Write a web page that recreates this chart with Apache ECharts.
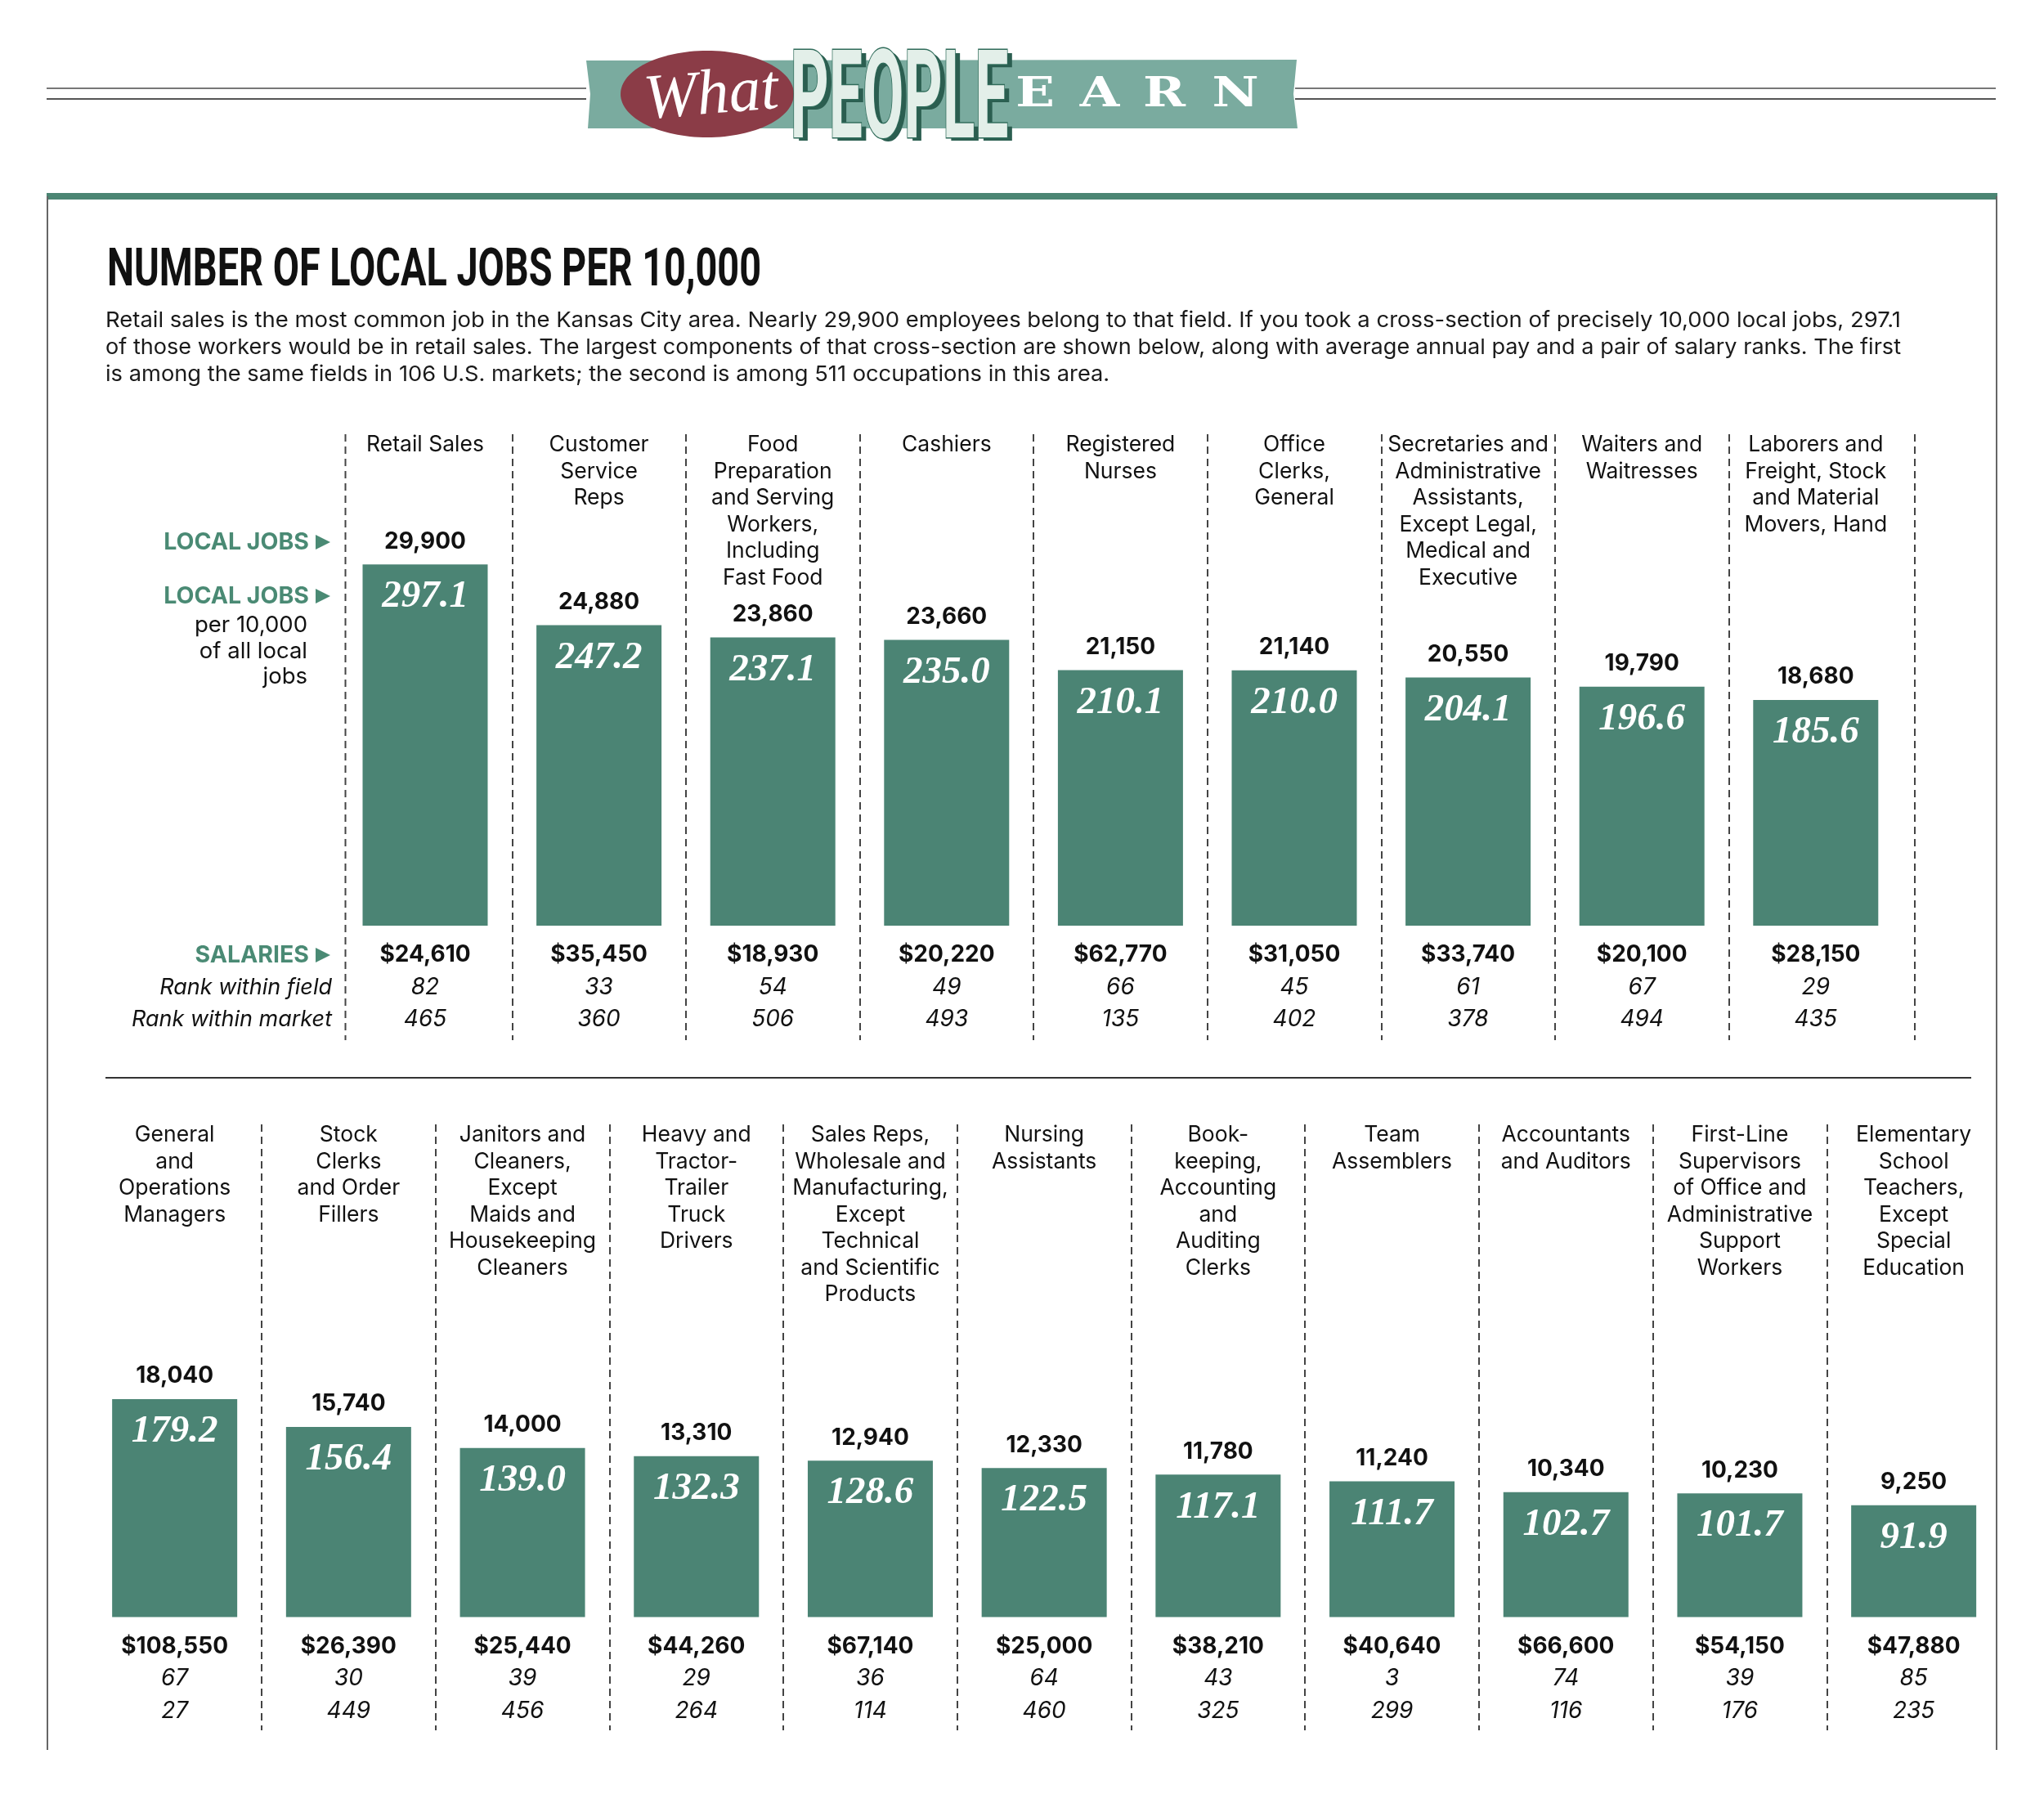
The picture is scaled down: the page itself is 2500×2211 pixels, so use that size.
<!DOCTYPE html>
<html><head><meta charset="utf-8">
<script src="https://cdn.jsdelivr.net/npm/echarts@6/dist/echarts.min.js"></script>
<style>html,body{margin:0;padding:0;background:#fff}#c{width:2500px;height:2211px}</style>
</head><body><div id="c"></div>
<script>
// ---------- DATA ----------
const topJobs = ['Retail Sales','Customer\nService\nReps','Food\nPreparation\nand Serving\nWorkers,\nIncluding\nFast Food','Cashiers','Registered\nNurses','Office\nClerks,\nGeneral','Secretaries and\nAdministrative\nAssistants,\nExcept Legal,\nMedical and\nExecutive','Waiters and\nWaitresses','Laborers and\nFreight, Stock\nand Material\nMovers, Hand'];
const topPer = [297.1,247.2,237.1,235.0,210.1,210.0,204.1,196.6,185.6];
const topLocal = [29900,24880,23860,23660,21150,21140,20550,19790,18680];
const topSalary = [24610,35450,18930,20220,62770,31050,33740,20100,28150];
const topRankField = [82,33,54,49,66,45,61,67,29];
const topRankMarket = [465,360,506,493,135,402,378,494,435];

const bottomJobs = ['General\nand\nOperations\nManagers','Stock\nClerks\nand Order\nFillers','Janitors and\nCleaners,\nExcept\nMaids and\nHousekeeping\nCleaners','Heavy and\nTractor-\nTrailer\nTruck\nDrivers','Sales Reps,\nWholesale and\nManufacturing,\nExcept\nTechnical\nand Scientific\nProducts','Nursing\nAssistants','Book-\nkeeping,\nAccounting\nand\nAuditing\nClerks','Team\nAssemblers','Accountants\nand Auditors','First-Line\nSupervisors\nof Office and\nAdministrative\nSupport\nWorkers','Elementary\nSchool\nTeachers,\nExcept\nSpecial\nEducation'];
const bottomPer = [179.2,156.4,139.0,132.3,128.6,122.5,117.1,111.7,102.7,101.7,91.9];
const bottomLocal = [18040,15740,14000,13310,12940,12330,11780,11240,10340,10230,9250];
const bottomSalary = [108550,26390,25440,44260,67140,25000,38210,40640,66600,54150,47880];
const bottomRankField = [67,30,39,29,36,64,43,3,74,39,85];
const bottomRankMarket = [27,449,456,264,114,460,325,299,116,176,235];

const titleText = 'NUMBER OF LOCAL JOBS PER 10,000';
const descLines = [
 'Retail sales is the most common job in the Kansas City area. Nearly 29,900 employees belong to that field. If you took a cross-section of precisely 10,000 local jobs, 297.1',
 'of those workers would be in retail sales. The largest components of that cross-section are shown below, along with average annual pay and a pair of salary ranks. The first',
 'is among the same fields in 106 U.S. markets; the second is among 511 occupations in this area.'
];

// ---------- STYLE / LAYOUT ----------
const GREEN = '#4b8474', LGREEN = '#4a8a74', INK = '#111';
const K = 1.487; // px per unit
const SANS = 'Inter, Roboto, "Noto Sans", sans-serif';
const mctx = document.createElement('canvas').getContext('2d');
function measure(font, t){ mctx.font = font; return mctx.measureText(t).width; }
const fmt = v => v.toLocaleString('en-US');

const G = [
  {left: 413.7, width: 1913.4, top: 531, height: 741, base: 1132},
  {left: 107.3, width: 2339.7, top: 1375, height: 741, base: 1977.5}
];

function xAxisCfg(gi, cats){
  return {type:'category', gridIndex:gi, data:cats, position:'top', boundaryGap:true,
    axisLine:{show:false}, axisTick:{show:false},
    axisLabel:{show:true, interval:0, inside:true, margin:-3, fontFamily:SANS, fontSize:26.5, lineHeight:32.5, color:INK, align:'center'},
    splitLine:{show:true, interval:0, showMinLine:false, showMaxLine:false,
      lineStyle:{color:'#444', width:2, type:[9,6]}}};
}
function yAxisCfg(gi){
  const g = G[gi];
  return {type:'value', gridIndex:gi, show:false,
    min: -(g.top + g.height - g.base)/K, max: (g.base - g.top)/K};
}
function seriesFor(gi, per, local, salary, rf, rm){
  const common = {type:'bar', xAxisIndex:gi, yAxisIndex:gi, barWidth:153, barGap:'-100%', silent:true, animation:false};
  return [
    Object.assign({}, common, {data: per, itemStyle:{color:GREEN}, z:2,
      label:{show:true, position:'insideTop', distance:18, formatter:p=>p.value.toFixed(1),
        color:'#fff', fontFamily:'"Liberation Serif", "DejaVu Serif", serif', fontStyle:'italic', fontWeight:'bold', fontSize:47, lineHeight:44}}),
    Object.assign({}, common, {data: per, itemStyle:{color:'rgba(0,0,0,0)'}, z:3,
      label:{show:true, position:'top', distance:13, formatter:p=>fmt(local[p.dataIndex]),
        color:INK, fontFamily:SANS, fontWeight:'bold', fontSize:28, lineHeight:30}}),
    Object.assign({}, common, {data: per, itemStyle:{color:'rgba(0,0,0,0)'}, z:3,
      label:{show:true, position:'bottom', distance:16,
        formatter:p=>'{s|$' + fmt(salary[p.dataIndex]) + '}\n{r|' + rf[p.dataIndex] + '}\n{r|' + rm[p.dataIndex] + '}',
        rich:{ s:{fontFamily:SANS, fontWeight:'bold', fontSize:28, lineHeight:39.5, color:INK, align:'center'},
               r:{fontFamily:SANS, fontStyle:'italic', fontSize:28, lineHeight:39.5, color:INK, align:'center'} }}})
  ];
}

// ---------- DECORATION ----------
const titleFont = 'bold 64px Roboto';
const titleScale = 800 / measure(titleFont, titleText);
const descFont = '26px Inter';
const descScales = [2196 / measure(descFont, descLines[0]), 2196 / measure(descFont, descLines[1])];
descScales.push((descScales[0] + descScales[1]) / 2);
const peopleFont = 'bold 150px Roboto';
const peopleScale = 267 / measure(peopleFont, 'PEOPLE');
const earnFont = 'bold 50px "DejaVu Serif", serif';

function tri(x, y){ return {type:'polygon', shape:{points:[[x,y-9],[x+18,y],[x,y+9]]}, style:{fill:LGREEN}}; }
function txt(x, y, t, o){ return {type:'text', x:x, y:y, style:Object.assign({text:t, fill:INK, fontFamily:SANS, fontSize:27.5, align:'right', verticalAlign:'middle'}, o||{})}; }
function vdash(x, y1, y2){ return {type:'line', shape:{x1:x,y1:y1,x2:x,y2:y2}, style:{stroke:'#444', lineWidth:2, lineDash:[9,6]}}; }
function earn(x, ch){ return {type:'text', x:x, y:117, scaleX:1.25, style:{text:ch, fill:'#fff', font:earnFont, align:'center', verticalAlign:'middle'}}; }

const graphic = [
  // header rules
  {type:'line', shape:{x1:57,y1:108,x2:717,y2:108}, style:{stroke:'#777', lineWidth:2}},
  {type:'line', shape:{x1:57,y1:121,x2:717,y2:121}, style:{stroke:'#555', lineWidth:2}},
  {type:'line', shape:{x1:1584,y1:108,x2:2441,y2:108}, style:{stroke:'#777', lineWidth:2}},
  {type:'line', shape:{x1:1584,y1:121,x2:2441,y2:121}, style:{stroke:'#555', lineWidth:2}},
  // banner
  {type:'polygon', shape:{points:[[717,74],[1586,73],[1582,115],[1587,157],[719,157],[722,115]]}, style:{fill:'#7aab9f'}},
  {type:'ellipse', shape:{cx:865, cy:115, rx:106, ry:53}, style:{fill:'#8b3c47'}},
  {type:'text', x:870, y:118, rotation:0.08, style:{text:'What', fill:'#fff', font:'italic 78px "Liberation Serif", serif', align:'center', verticalAlign:'middle'}},
  {type:'text', x:1106, y:134, scaleX:peopleScale, style:{text:'PEOPLE', fill:'#2b5e50', font:peopleFont, align:'center', verticalAlign:'middle'}},
  {type:'text', x:1100, y:130, scaleX:peopleScale, style:{text:'PEOPLE', fill:'#e3efe9', stroke:'#2f6b5a', lineWidth:3, font:peopleFont, align:'center', verticalAlign:'middle'}},
  earn(1266, 'E'), earn(1345, 'A'), earn(1424, 'R'), earn(1511, 'N'),
  // panel frame
  {type:'rect', shape:{x:57, y:236, width:2386, height:8}, style:{fill:'#4b8573'}},
  {type:'line', shape:{x1:58,y1:240,x2:58,y2:2140}, style:{stroke:'#666', lineWidth:2}},
  {type:'line', shape:{x1:2442,y1:240,x2:2442,y2:2140}, style:{stroke:'#666', lineWidth:2}},
  {type:'line', shape:{x1:129,y1:1318,x2:2411,y2:1318}, style:{stroke:'#333', lineWidth:2}},
  // outer dashed separators of the top panel
  vdash(422.5, 531, 1272), vdash(2342, 531, 1272),
  // title + description
  {type:'text', x:131, y:333, scaleX:titleScale, style:{text:titleText, fill:INK, font:titleFont, align:'left', verticalAlign:'middle'}},
  {type:'text', x:129, y:392, scaleX:descScales[0], style:{text:descLines[0], fill:'#1a1a1a', font:descFont, align:'left', verticalAlign:'middle'}},
  {type:'text', x:129, y:425, scaleX:descScales[1], style:{text:descLines[1], fill:'#1a1a1a', font:descFont, align:'left', verticalAlign:'middle'}},
  {type:'text', x:129, y:458, scaleX:descScales[2], style:{text:descLines[2], fill:'#1a1a1a', font:descFont, align:'left', verticalAlign:'middle'}},
  // left legend
  txt(378, 663, 'LOCAL JOBS', {fill:LGREEN, fontWeight:'bold', fontSize:28.5}), tri(386, 663),
  txt(378, 729, 'LOCAL JOBS', {fill:LGREEN, fontWeight:'bold', fontSize:28.5}), tri(386, 729),
  txt(376, 765, 'per 10,000'), txt(376, 797, 'of all local'), txt(376, 828, 'jobs'),
  txt(378, 1168, 'SALARIES', {fill:LGREEN, fontWeight:'bold', fontSize:28.5}), tri(386, 1168),
  txt(406, 1208, 'Rank within field', {fontStyle:'italic', fontSize:27}),
  txt(406, 1247, 'Rank within market', {fontStyle:'italic', fontSize:27})
];

const chart = echarts.init(document.getElementById('c'), null, {renderer:'canvas'});
chart.setOption({
  backgroundColor:'#fff',
  animation:false,
  grid: G.map(g => ({left:g.left, width:g.width, top:g.top, height:g.height, containLabel:false})),
  xAxis: [xAxisCfg(0, topJobs), xAxisCfg(1, bottomJobs)],
  yAxis: [yAxisCfg(0), yAxisCfg(1)],
  series: [].concat(
    seriesFor(0, topPer, topLocal, topSalary, topRankField, topRankMarket),
    seriesFor(1, bottomPer, bottomLocal, bottomSalary, bottomRankField, bottomRankMarket)
  ),
  graphic: graphic
});
</script></body></html>
